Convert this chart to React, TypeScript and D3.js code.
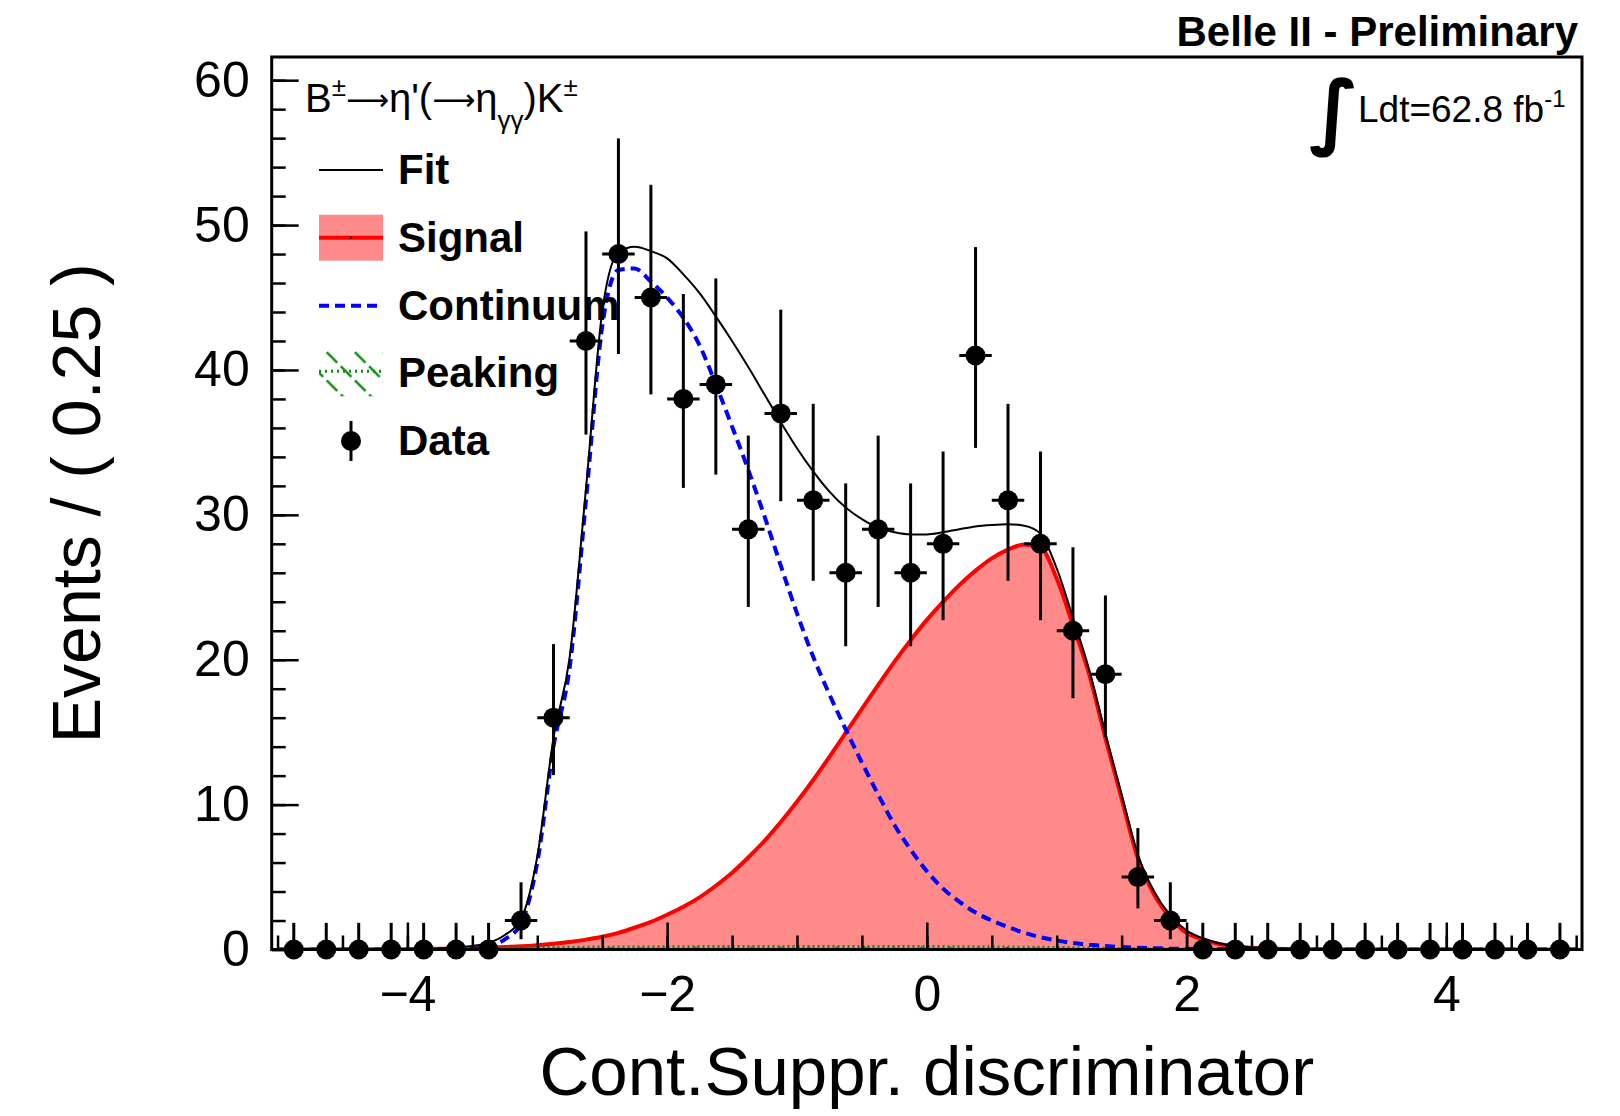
import React, { useEffect, useRef } from 'react';
import * as d3 from 'd3';

// events per 0.25 bin
const binCenters = [
  -4.875, -4.625, -4.375, -4.125, -3.875, -3.625, -3.375, -3.125, -2.875, -2.625,
  -2.375, -2.125, -1.875, -1.625, -1.375, -1.125, -0.875, -0.625, -0.375, -0.125,
  0.125, 0.375, 0.625, 0.875, 1.125, 1.375, 1.625, 1.875, 2.125, 2.375,
  2.625, 2.875, 3.125, 3.375, 3.625, 3.875, 4.125, 4.375, 4.625, 4.875,
];
const counts = [
  0, 0, 0, 0, 0, 0, 0, 2, 16, 42,
  48, 45, 38, 39, 29, 37, 31, 26, 29, 26,
  28, 41, 31, 28, 22, 19, 5, 2, 0, 0,
  0, 0, 0, 0, 0, 0, 0, 0, 0, 0,
];
// asymmetric (poisson) error bars
const errLow = [
  0, 0, 0, 0, 0, 0, 0, 1.29, 3.96, 6.46,
  6.9, 6.69, 6.14, 6.22, 5.36, 6.06, 5.55, 5.07, 5.36, 5.07,
  5.27, 6.38, 5.55, 5.27, 4.66, 4.33, 2.16, 1.29, 0, 0,
  0, 0, 0, 0, 0, 0, 0, 0, 0, 0,
];
const errHigh = [
  1.84, 1.84, 1.84, 1.84, 1.84, 1.84, 1.84, 2.64, 5.08, 7.56,
  7.98, 7.78, 7.24, 7.32, 6.47, 7.16, 6.66, 6.17, 6.47, 6.17,
  6.37, 7.48, 6.66, 6.37, 5.76, 5.44, 3.38, 2.64, 1.84, 1.84,
  1.84, 1.84, 1.84, 1.84, 1.84, 1.84, 1.84, 1.84, 1.84, 1.84,
];

// fit curves, sampled from the plot
const curveX = [
  -5, -4, -3.5, -3.375, -3.25, -3.125, -3, -2.875, -2.75, -2.625,
  -2.5, -2.375, -2.25, -2.125, -2, -1.875, -1.75, -1.625, -1.5, -1.375,
  -1.25, -1.125, -1, -0.875, -0.75, -0.625, -0.5, -0.375, -0.25, -0.125,
  0, 0.125, 0.25, 0.375, 0.5, 0.625, 0.75, 0.875, 1, 1.125,
  1.25, 1.375, 1.5, 1.625, 1.75, 1.875, 2, 2.125, 2.25, 2.5,
  2.75, 3, 4, 5,
];
const fitTotal = [
  0, 0.02, 0.25, 0.45, 1.0, 2.1, 6.4, 14.6, 20.2, 31.8,
  44.0, 48.1, 48.5, 48.2, 47.7, 46.6, 45.3, 43.7, 42.0, 40.2,
  38.3, 36.4, 34.6, 33.0, 31.6, 30.5, 29.7, 29.1, 28.8, 28.65,
  28.65, 28.8, 29.0, 29.2, 29.3, 29.35, 29.25, 28.7, 26.3, 22.9,
  19.3, 14.9, 10.7, 6.55, 4.0, 2.35, 1.3, 0.78, 0.43, 0.15,
  0.06, 0.02, 0, 0,
];
const signal = [
  0, 0.02, 0.08, 0.12, 0.17, 0.22, 0.3, 0.4, 0.52, 0.68,
  0.88, 1.15, 1.5, 1.9, 2.4, 2.95, 3.6, 4.4, 5.3, 6.35,
  7.5, 8.8, 10.2, 11.7, 13.3, 14.95, 16.6, 18.25, 19.85, 21.35,
  22.75, 24.0, 25.15, 26.15, 27.0, 27.6, 27.95, 27.75, 25.6, 22.4,
  19.0, 14.6, 10.4, 6.3, 3.8, 2.2, 1.15, 0.7, 0.38, 0.12,
  0.04, 0.01, 0, 0,
];
const continuum = [
  0, 0, 0.05, 0.2, 0.7, 1.8, 6.0, 14.0, 19.5, 31.0,
  43.0, 46.9, 47.0, 46.1, 45.0, 43.6, 41.7, 39.0, 36.1, 33.1,
  29.9, 26.5, 23.2, 20.2, 17.6, 15.2, 12.9, 10.7, 8.6, 6.9,
  5.4, 4.2, 3.3, 2.55, 2.0, 1.55, 1.15, 0.85, 0.62, 0.45,
  0.33, 0.24, 0.17, 0.12, 0.09, 0.06, 0.05, 0.03, 0.02, 0.01,
  0, 0, 0, 0,
];
const peaking = [
  0, 0, 0.05, 0.08, 0.1, 0.12, 0.13, 0.14, 0.15, 0.16,
  0.17, 0.17, 0.18, 0.18, 0.19, 0.19, 0.2, 0.2, 0.2, 0.2,
  0.2, 0.2, 0.2, 0.2, 0.2, 0.2, 0.2, 0.2, 0.2, 0.2,
  0.2, 0.2, 0.19, 0.19, 0.18, 0.17, 0.16, 0.15, 0.14, 0.12,
  0.1, 0.09, 0.07, 0.06, 0.05, 0.04, 0.03, 0.02, 0.02, 0.01,
  0, 0, 0, 0,
];

const xMajorTicks = [-4, -2, 0, 2, 4];
const yMajorTicks = [0, 10, 20, 30, 40, 50, 60];
const legendLabels = ['Fit', 'Signal', 'Continuum', 'Peaking', 'Data'];

const App = () => {
  const svgRef = useRef<SVGSVGElement | null>(null);

  useEffect(() => {
    const font = '"Liberation Sans", Arial, Helvetica, sans-serif';
    const svg = d3.select(svgRef.current);
    svg.selectAll('*').remove();

    const frame = { left: 271.7, right: 1582, top: 57, bottom: 949.5 };

    const xScale = d3.scaleLinear().domain([-5.045, 5.045]).range([frame.left, frame.right]);
    const yScale = d3.scaleLinear().domain([0, 61.6]).range([frame.bottom, frame.top]);

    const defs = svg.append('defs');
    defs.append('clipPath').attr('id', 'frameClip')
      .append('rect')
      .attr('x', frame.left).attr('y', frame.top)
      .attr('width', frame.right - frame.left)
      .attr('height', frame.bottom - frame.top);
    const hatch = defs.append('pattern')
      .attr('id', 'hatch')
      .attr('patternUnits', 'userSpaceOnUse')
      .attr('width', 20).attr('height', 20)
      .attr('patternTransform', 'rotate(-45)');
    hatch.append('line')
      .attr('x1', 2).attr('y1', 0).attr('x2', 2).attr('y2', 20)
      .attr('stroke', '#138c13').attr('stroke-width', 2.5)
      .attr('stroke-dasharray', '15,5');

    const idx = d3.range(curveX.length);
    const lineOf = (vals: number[]) => d3.line<number>()
      .x((i) => xScale(curveX[i]))
      .y((i) => yScale(vals[i]))
      .curve(d3.curveMonotoneX)(idx);
    const areaOf = (vals: number[]) => d3.area<number>()
      .x((i) => xScale(curveX[i]))
      .y0(yScale(0))
      .y1((i) => yScale(vals[i]))
      .curve(d3.curveMonotoneX)(idx);

    const plot = svg.append('g').attr('clip-path', 'url(#frameClip)');

    // signal
    plot.append('path').attr('d', areaOf(signal)).attr('fill', '#ff8a8a');
    plot.append('path').attr('d', lineOf(signal))
      .attr('fill', 'none').attr('stroke', '#ff0000').attr('stroke-width', 4);

    // peaking
    plot.append('path').attr('d', areaOf(peaking)).attr('fill', 'url(#hatch)');
    plot.append('path').attr('d', lineOf(peaking))
      .attr('fill', 'none').attr('stroke', '#138c13').attr('stroke-width', 3)
      .attr('stroke-dasharray', '2,3');

    // continuum
    plot.append('path').attr('d', lineOf(continuum))
      .attr('fill', 'none').attr('stroke', '#0000ff').attr('stroke-width', 4)
      .attr('stroke-dasharray', '10,6');

    // total fit
    plot.append('path').attr('d', lineOf(fitTotal))
      .attr('fill', 'none').attr('stroke', '#000').attr('stroke-width', 2);

    // axes, ticks pointing inwards like ROOT
    const styleAxis = (g: any) => {
      g.select('.domain').remove();
      g.selectAll('line').attr('stroke', '#000').attr('stroke-width', 2.5);
      g.selectAll('text')
        .attr('font-size', 50)
        .attr('font-family', font)
        .attr('fill', '#000');
    };

    svg.append('g')
      .attr('transform', `translate(0, ${frame.bottom})`)
      .call(d3.axisBottom(xScale).tickValues(d3.range(-5, 5.01, 0.5)).tickSize(-14).tickFormat(() => ''))
      .call(styleAxis);
    svg.append('g')
      .attr('transform', `translate(0, ${frame.bottom})`)
      .call(d3.axisBottom(xScale).tickValues(xMajorTicks).tickSize(-27).tickPadding(26).tickFormat(d3.format('d')))
      .call(styleAxis);

    svg.append('g')
      .attr('transform', `translate(${frame.left}, 0)`)
      .call(d3.axisLeft(yScale).tickValues(d3.range(0, 61, 2)).tickSize(-14).tickFormat(() => ''))
      .call(styleAxis);
    svg.append('g')
      .attr('transform', `translate(${frame.left}, 0)`)
      .call(d3.axisLeft(yScale).tickValues(yMajorTicks).tickSize(-27).tickPadding(22).tickFormat(d3.format('d')))
      .call(styleAxis);

    // frame
    svg.append('rect')
      .attr('x', frame.left).attr('y', frame.top)
      .attr('width', frame.right - frame.left)
      .attr('height', frame.bottom - frame.top)
      .attr('fill', 'none').attr('stroke', '#000').attr('stroke-width', 3);

    // data points
    const pts = svg.append('g');
    binCenters.forEach((bx, i) => {
      const cx = xScale(bx);
      const cy = yScale(counts[i]);
      pts.append('line')
        .attr('x1', cx).attr('x2', cx)
        .attr('y1', yScale(counts[i] - errLow[i]))
        .attr('y2', yScale(counts[i] + errHigh[i]))
        .attr('stroke', '#000').attr('stroke-width', 3);
      pts.append('line')
        .attr('x1', xScale(bx - 0.125)).attr('x2', xScale(bx + 0.125))
        .attr('y1', cy).attr('y2', cy)
        .attr('stroke', '#000').attr('stroke-width', 3);
      pts.append('circle')
        .attr('cx', cx).attr('cy', cy).attr('r', 10)
        .attr('fill', '#000');
    });

    // axis titles
    svg.append('text')
      .attr('x', (frame.left + frame.right) / 2).attr('y', 1095)
      .attr('text-anchor', 'middle')
      .attr('font-family', font).attr('font-size', 69)
      .text('Cont.Suppr. discriminator');
    svg.append('text')
      .attr('transform', `translate(100, ${(frame.top + frame.bottom) / 2}) rotate(-90)`)
      .attr('text-anchor', 'middle')
      .attr('font-family', font).attr('font-size', 68)
      .text('Events / ( 0.25 )');

    // header texts
    svg.append('text')
      .attr('x', 1578).attr('y', 46)
      .attr('text-anchor', 'end')
      .attr('font-family', font).attr('font-size', 42).attr('font-weight', 'bold')
      .text('Belle II - Preliminary');

    const arrowFont = '"DejaVu Sans", sans-serif';
    const decay = svg.append('text')
      .attr('x', 305).attr('y', 112)
      .attr('font-family', font).attr('font-size', 40);
    decay.append('tspan').text('B');
    decay.append('tspan').attr('font-size', 26).attr('dy', -16).text('±');
    decay.append('tspan').attr('dy', 14).attr('font-family', arrowFont).attr('font-size', 30).text('⟶');
    decay.append('tspan').attr('dy', 2).text('η\'(');
    decay.append('tspan').attr('dy', -2).attr('font-family', arrowFont).attr('font-size', 30).text('⟶');
    decay.append('tspan').attr('dy', 2).text('η');
    decay.append('tspan').attr('font-size', 26).attr('dy', 17).text('γγ');
    decay.append('tspan').attr('dy', -17).text(')K');
    decay.append('tspan').attr('font-size', 26).attr('dy', -16).text('±');

    svg.append('text')
      .attr('x', 1309).attr('y', 139)
      .attr('font-family', '"DejaVu Sans", sans-serif').attr('font-size', 82).attr('font-weight', 'bold')
      .text('∫');
    const lumi = svg.append('text')
      .attr('x', 1358).attr('y', 122)
      .attr('font-family', font).attr('font-size', 37);
    lumi.append('tspan').text('Ldt=62.8 fb');
    lumi.append('tspan').attr('font-size', 24).attr('dy', -15).text('-1');

    // legend
    const rowY = [170, 237.7, 305.7, 373.3, 441];
    const lg = svg.append('g');
    const sx0 = 319, sx1 = 383, boxH = 46;
    lg.append('line').attr('x1', sx0).attr('x2', sx1).attr('y1', rowY[0]).attr('y2', rowY[0])
      .attr('stroke', '#000').attr('stroke-width', 2);
    lg.append('rect').attr('x', sx0).attr('y', rowY[1] - boxH / 2).attr('width', sx1 - sx0).attr('height', boxH)
      .attr('fill', '#ff8a8a');
    lg.append('line').attr('x1', sx0).attr('x2', sx1).attr('y1', rowY[1]).attr('y2', rowY[1])
      .attr('stroke', '#ff0000').attr('stroke-width', 4);
    lg.append('circle').attr('cx', (sx0 + sx1) / 2).attr('cy', rowY[1]).attr('r', 1.2).attr('fill', '#000');
    lg.append('line').attr('x1', sx0).attr('x2', sx1).attr('y1', rowY[2]).attr('y2', rowY[2])
      .attr('stroke', '#0000ff').attr('stroke-width', 4).attr('stroke-dasharray', '10,6');
    lg.append('rect').attr('x', sx0).attr('y', rowY[3] - boxH / 2).attr('width', sx1 - sx0).attr('height', boxH)
      .attr('fill', 'url(#hatch)');
    lg.append('line').attr('x1', sx0).attr('x2', sx1).attr('y1', rowY[3] - 2).attr('y2', rowY[3] - 2)
      .attr('stroke', '#138c13').attr('stroke-width', 3).attr('stroke-dasharray', '2,4');
    const mx = (sx0 + sx1) / 2;
    lg.append('line').attr('x1', mx).attr('x2', mx).attr('y1', rowY[4] - 20).attr('y2', rowY[4] + 20)
      .attr('stroke', '#000').attr('stroke-width', 3);
    lg.append('circle').attr('cx', mx).attr('cy', rowY[4]).attr('r', 10).attr('fill', '#000');

    lg.selectAll('text.lbl')
      .data(legendLabels)
      .enter()
      .append('text')
      .attr('class', 'lbl')
      .attr('x', 398)
      .attr('y', (d, i) => rowY[i] + 14)
      .attr('font-family', font).attr('font-size', 42).attr('font-weight', 'bold')
      .text((d) => d);

    return () => {
      svg.selectAll('*').remove();
    };
  }, []);

  return (
    <svg
      ref={svgRef}
      width={1620}
      height={1116}
      style={{ position: 'absolute', left: 0, top: 0, background: '#fff' }}
    />
  );
};

export default App;
